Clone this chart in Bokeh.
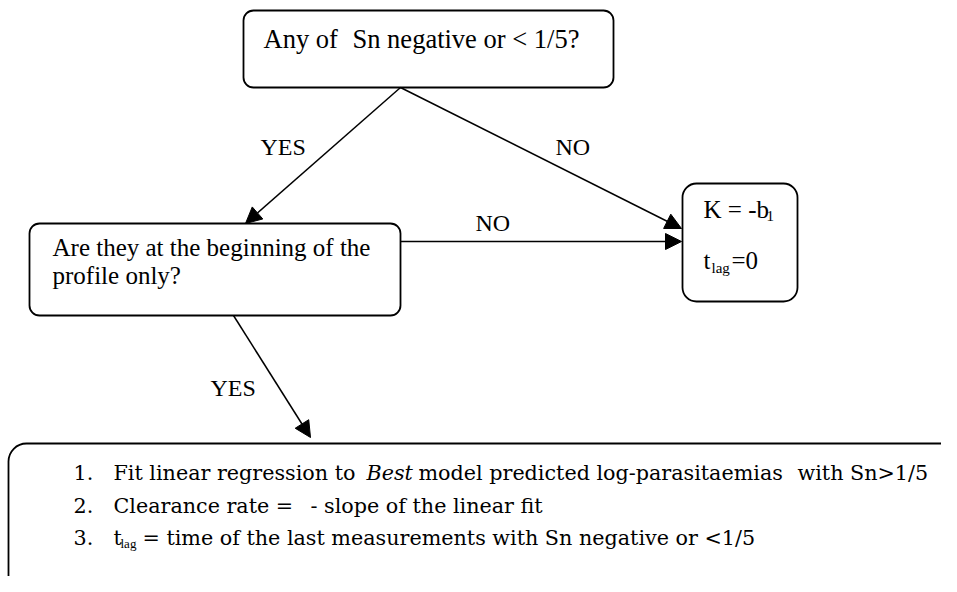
from bokeh.plotting import figure
from bokeh.models import Range1d, ColumnDataSource, Arrow, NormalHead
from bokeh.core.properties import value
from bokeh.embed import file_html
from bokeh.resources import INLINE

# ---- flowchart data (screen-like coordinates, y grows downward) ----
box_names = ["question1", "question2", "result_no", "result_yes"]
box_left = [243, 29, 682, 8]
box_right = [613, 400, 797, 962]
box_top = [10, 223, 183, 443]
box_bottom = [87, 315, 301, 600]
box_radius = [10, 10, 14, 18]

arrow_x0 = [400, 400, 400, 233]
arrow_y0 = [87, 87, 241, 315]
arrow_x1 = [245, 681, 681, 310]
arrow_y1 = [223, 228, 241, 437]

label_text = ["YES", "NO", "NO", "YES"]
label_x = [260, 555, 475, 210]
label_y = [146, 146, 222, 387]

# Times-like box texts
serif_text = ["Any of", "Sn negative or < 1/5?", "Are they at the beginning of the", "profile only?",
              "K = -b", "t", "=0"]
serif_x = [263, 352, 52, 52, 703, 703, 731]
serif_y = [38, 38, 247, 275, 209, 260, 260]
serif_size = ["26.5px", "26.5px", "25px", "25px", "25px", "25px", "25px"]

sub_text = ["1", "lag", "lag"]
sub_x = [766, 711, 120]
sub_y = [215, 267, 543]
sub_size = ["15px", "15px", "13px"]

# bottom box list (Cambria-like)
num_text = ["1.", "2.", "3."]
num_x = [73, 73, 73]
num_y = [472, 505, 537]

body_text = ["Fit linear regression to", "model predicted log-parasitaemias", "with Sn>1/5",
             "Clearance rate =", "- slope of the linear fit",
             "t", "= time of the last measurements with Sn negative or <1/5"]
body_x = [113, 418, 797, 113, 310, 113, 142]
body_y = [472, 472, 472, 505, 505, 537, 537]

italic_text = ["Best"]
italic_x = [366]
italic_y = [472]

W, H = 941, 576
p = figure(width=W, height=H, output_backend="svg", toolbar_location=None,
           x_range=Range1d(0, W), y_range=Range1d(H, 0),
           min_border=0, min_border_left=0, min_border_right=0,
           min_border_top=0, min_border_bottom=0)
p.axis.visible = False
p.xgrid.visible = False
p.ygrid.visible = False
p.outline_line_color = None
p.background_fill_color = "white"
p.border_fill_color = "white"

for i in range(len(box_names)):
    p.quad(left=[box_left[i]], right=[box_right[i]], top=[box_top[i]], bottom=[box_bottom[i]],
           fill_color="white", line_color="black", line_width=1.8,
           border_radius=box_radius[i])

src_arrow = ColumnDataSource(dict(x0=arrow_x0, y0=arrow_y0, x1=arrow_x1, y1=arrow_y1))
p.add_layout(Arrow(end=NormalHead(size=16, fill_color="black", line_color="black", line_width=1),
                   x_start="x0", y_start="y0", x_end="x1", y_end="y1",
                   source=src_arrow, line_color="black", line_width=1.5))

common = dict(text_color="black", text_baseline="middle", text_align="left")

p.text(x=label_x, y=label_y, text=label_text, text_font=value("Liberation Serif"),
       text_font_size="24px", **common)

p.text(x=serif_x, y=serif_y, text=serif_text, text_font=value("Liberation Serif"),
       text_font_size=serif_size, **common)

p.text(x=sub_x, y=sub_y, text=sub_text, text_font=value("Liberation Serif"),
       text_font_size=sub_size, **common)

p.text(x=num_x, y=num_y, text=num_text, text_font=value("DejaVu Serif"),
       text_font_size="20.7px", **common)

p.text(x=body_x, y=body_y, text=body_text, text_font=value("DejaVu Serif"),
       text_font_size="20.7px", **common)

p.text(x=italic_x, y=italic_y, text=italic_text, text_font=value("DejaVu Serif"),
       text_font_style="italic", text_font_size="20.7px", **common)

open("out.html", "w").write(file_html(p, INLINE))
